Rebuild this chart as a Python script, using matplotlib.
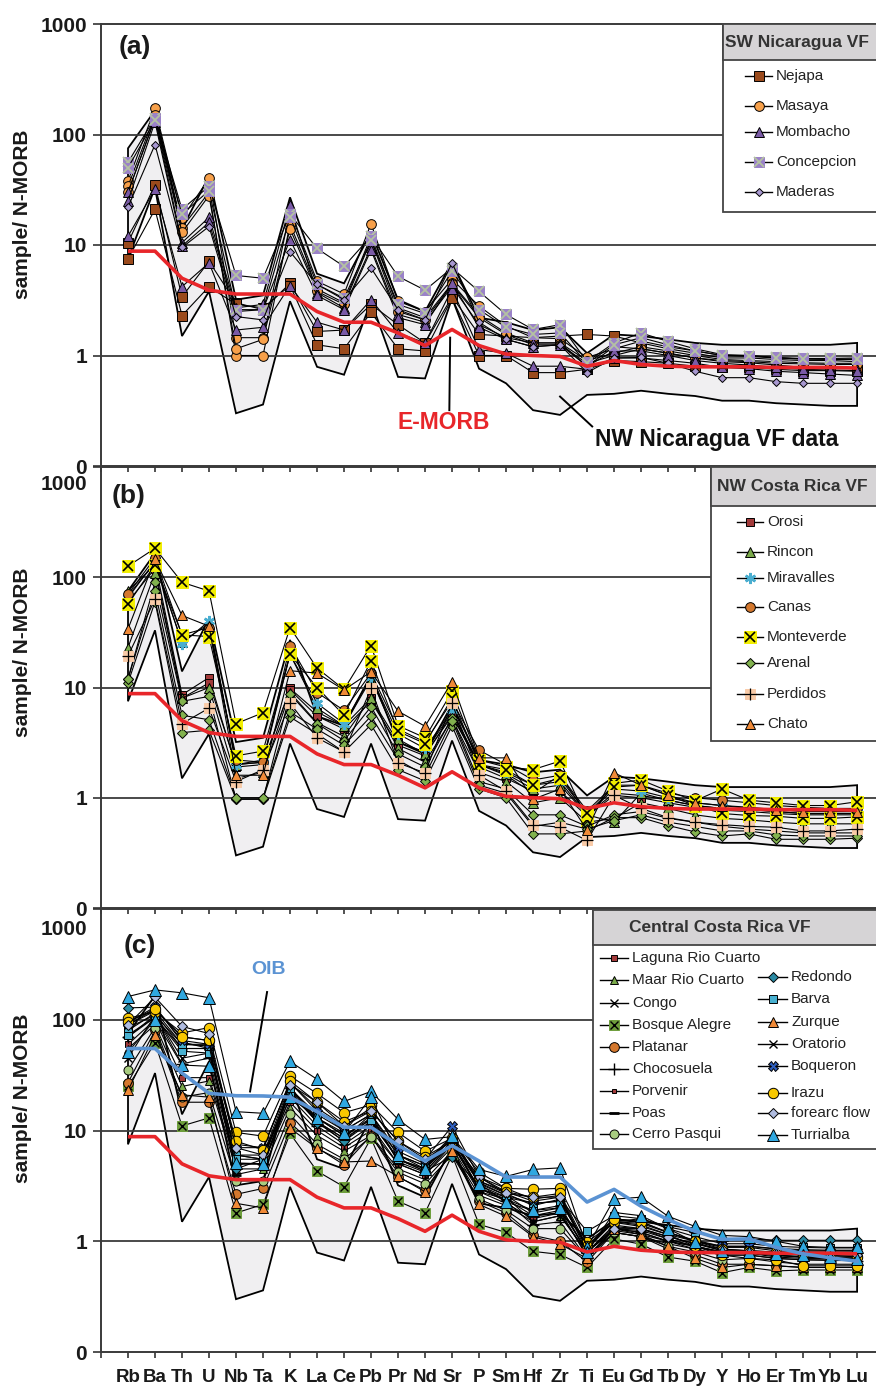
import numpy as np
import matplotlib.pyplot as plt
from matplotlib.lines import Line2D
from matplotlib.patches import Rectangle

plt.rcParams['font.family'] = ['Liberation Sans', 'DejaVu Sans']

W, H = 876, 1388

elements = ['Rb', 'Ba', 'Th', 'U', 'Nb', 'Ta', 'K', 'La', 'Ce', 'Pb', 'Pr', 'Nd', 'Sr', 'P',
            'Sm', 'Hf', 'Zr', 'Ti', 'Eu', 'Gd', 'Tb', 'Dy', 'Y', 'Ho', 'Er', 'Tm', 'Yb', 'Lu']

# reference compositions, normalised to N-MORB
e_morb = [8.8, 8.8, 5.0, 3.9, 3.6, 3.6, 3.6, 2.5, 2.0, 2.0, 1.6, 1.23, 1.72, 1.23, 1.03, 1.0,
          0.98, 0.8, 0.9, 0.83, 0.8, 0.79, 0.79, 0.79, 0.78, 0.78, 0.78, 0.77]
oib = [55, 55, 33, 21.7, 20.6, 20.5, 20, 14.8, 10.7, 10.7, 7.35, 5.3, 7.3, 5.3, 3.8, 3.8,
       3.8, 2.26, 2.94, 2.07, 1.57, 1.23, 1.04, 1.05, 0.88, 0.77, 0.71, 0.66]

# NW Nicaragua volcanic front envelope
nw_nic_upper = [75, 165, 14, 42, 3.2, 3.5, 27, 5.5, 4.5, 13, 3.2, 2.5, 7.0, 2.2, 2.0, 1.7,
                1.8, 1.05, 1.55, 1.5, 1.4, 1.3, 1.25, 1.25, 1.25, 1.25, 1.25, 1.3]
nw_nic_lower = [7.5, 33, 1.5, 3.8, 0.3, 0.36, 3.1, 0.79, 0.67, 3.1, 0.64, 0.62, 3.3, 0.76,
                0.56, 0.32, 0.29, 0.44, 0.45, 0.48, 0.45, 0.43, 0.39, 0.39, 0.37, 0.36, 0.35, 0.35]

# (a) SW Nicaragua VF
nejapa = [
    [10.5, 35, 3.4, 7.1, 3.0, 2.6, 4.5, 1.65, 1.7, 2.9, 1.9, 1.3, 3.4, 1.55, 1.5, 1.45, 1.5, 1.55,
     1.5, 1.3, 1.15, 1.05, 0.95, 0.95, 0.92, 0.9, 0.9, 0.88],
    [7.5, 21, 2.3, 4.2, 2.9, 2.7, 4.3, 1.25, 1.15, 2.45, 1.15, 1.1, 3.3, 1.0, 1.0, 0.7, 0.7, 0.75,
     0.9, 0.88, 0.85, 0.8, 0.78, 0.78, 0.75, 0.73, 0.73, 0.72],
]
masaya = [
    [38, 173, 17.5, 40, 1.45, 1.45, 20, 4.7, 3.6, 15.6, 3.1, 2.5, 4.9, 2.8, 1.85, 1.45, 1.42, 0.96,
     1.15, 1.35, 1.2, 1.1, 1.0, 0.98, 0.95, 0.93, 0.92, 0.92],
    [34, 150, 14.4, 30, 1.0, 1.0, 15.4, 4.0, 3.0, 12, 2.7, 2.2, 4.5, 2.3, 1.6, 1.3, 1.3, 0.9,
     1.05, 1.2, 1.1, 1.0, 0.92, 0.9, 0.88, 0.86, 0.85, 0.85],
    [30, 140, 13, 28, 1.15, 1.4, 14, 3.8, 2.9, 11, 2.5, 2.1, 4.4, 2.2, 1.55, 1.25, 1.25, 0.85,
     1.0, 1.15, 1.05, 0.95, 0.9, 0.88, 0.85, 0.84, 0.83, 0.83],
]
mombacho = [
    [30, 140, 10.5, 17.8, 2.7, 2.9, 23, 3.7, 2.7, 9.5, 2.35, 2.0, 4.2, 1.9, 1.45, 1.3, 1.3, 0.8,
     1.2, 1.15, 1.05, 0.95, 0.88, 0.86, 0.82, 0.78, 0.77, 0.76],
    [12, 32, 4.2, 6.9, 1.7, 1.8, 4.3, 2.0, 1.7, 3.2, 1.6, 1.3, 4.0, 1.13, 1.05, 0.8, 0.8, 0.75,
     0.95, 0.95, 0.9, 0.85, 0.78, 0.76, 0.72, 0.7, 0.68, 0.66],
    [25, 130, 9.8, 16, 2.5, 2.6, 11.2, 3.5, 2.6, 9.0, 2.2, 1.9, 4.5, 1.8, 1.4, 1.2, 1.25, 0.8,
     1.1, 1.1, 1.0, 0.9, 0.85, 0.82, 0.78, 0.75, 0.74, 0.73],
]
concepcion = [
    [56, 142, 21, 34, 5.3, 5.0, 19, 9.3, 6.4, 12, 5.2, 3.9, 6.2, 3.8, 2.35, 1.72, 1.9, 0.88,
     1.3, 1.6, 1.34, 1.15, 1.02, 1.0, 0.96, 0.94, 0.94, 0.95],
    [50, 135, 19, 31, 2.6, 2.6, 18, 4.4, 3.3, 11, 2.9, 2.4, 5.8, 2.6, 1.8, 1.55, 1.6, 0.85,
     1.25, 1.45, 1.25, 1.1, 1.0, 1.0, 0.95, 0.93, 0.93, 0.93],
]
maderas = [
    [22, 81, 9.5, 14.7, 2.25, 2.1, 8.7, 4.4, 3.2, 6.2, 2.6, 2.1, 6.9, 2.0, 1.4, 1.2, 1.25, 0.7,
     0.95, 0.96, 0.85, 0.72, 0.63, 0.63, 0.58, 0.56, 0.56, 0.56],
]

# (b) NW Costa Rica VF
orosi = [
    [68, 135, 8.6, 12.3, 1.9, 2.0, 9.8, 6.0, 4.5, 8.0, 3.2, 2.6, 6.0, 2.0, 1.6, 1.1, 1.6, 0.7,
     1.1, 1.05, 0.95, 0.85, 0.8, 0.78, 0.75, 0.72, 0.72, 0.72],
    [60, 120, 8.0, 11, 2.0, 2.1, 9.5, 5.5, 4.2, 7.5, 3.0, 2.4, 5.8, 1.9, 1.5, 1.15, 1.15, 0.68,
     1.05, 1.0, 0.9, 0.82, 0.77, 0.75, 0.72, 0.7, 0.7, 0.7],
]
rincon = [
    [75, 130, 26, 38, 2.0, 2.2, 20, 6.5, 4.5, 12, 3.4, 2.5, 5.5, 2.0, 1.65, 1.2, 1.3, 0.7,
     0.6, 1.1, 0.95, 0.85, 0.8, 0.78, 0.75, 0.72, 0.72, 0.72],
    [23, 110, 8.0, 10, 1.5, 1.7, 9.0, 4.8, 3.6, 8.0, 2.8, 2.1, 5.2, 1.7, 1.4, 0.9, 1.0, 0.6,
     0.65, 0.9, 0.8, 0.7, 0.65, 0.63, 0.6, 0.58, 0.58, 0.58],
]
miravalles = [
    [65, 140, 25, 40, 2.0, 2.1, 20, 7.2, 4.7, 12.5, 3.8, 2.8, 6.2, 2.0, 1.7, 1.3, 1.4, 0.7,
     1.2, 1.15, 1.0, 0.9, 0.85, 0.82, 0.78, 0.76, 0.75, 0.75],
]
canas = [
    [70, 150, 30, 35, 2.2, 2.1, 24, 9.0, 6.2, 13.5, 4.2, 3.2, 7.5, 2.7, 2.0, 1.45, 1.6, 0.76,
     1.3, 1.3, 1.1, 1.0, 0.95, 0.9, 0.85, 0.82, 0.8, 0.8],
]
monteverde = [
    [126, 183, 90, 75, 4.7, 5.9, 35, 15, 9.6, 24, 4.5, 3.5, 9.2, 2.2, 1.9, 1.8, 2.15, 0.63,
     1.35, 1.45, 1.15, 0.94, 1.2, 0.95, 0.9, 0.85, 0.85, 0.92],
    [57, 130, 30, 29, 2.4, 2.65, 20, 10, 5.6, 17.5, 4.0, 3.1, 8.0, 2.0, 1.8, 1.3, 1.5, 0.72,
     1.25, 1.3, 1.05, 0.85, 0.72, 0.69, 0.68, 0.65, 0.65, 0.67],
]
arenal = [
    [12, 90, 7.5, 8.3, 0.97, 0.97, 8.7, 4.7, 3.3, 6.7, 2.5, 1.9, 5.3, 1.4, 1.2, 0.7, 0.7, 0.55,
     0.7, 0.75, 0.65, 0.6, 0.55, 0.52, 0.5, 0.48, 0.48, 0.48],
    [11, 60, 3.9, 4.1, 0.97, 0.97, 5.4, 3.8, 2.6, 4.6, 1.8, 1.42, 4.5, 1.2, 1.0, 0.47, 0.47, 0.5,
     0.66, 0.66, 0.56, 0.49, 0.45, 0.47, 0.42, 0.42, 0.42, 0.43],
    [12, 75, 5.6, 5.1, 1.0, 1.0, 6.0, 4.2, 3.0, 5.5, 2.2, 1.6, 5.0, 1.3, 1.1, 0.55, 0.6, 0.52,
     0.62, 0.7, 0.6, 0.55, 0.5, 0.5, 0.46, 0.45, 0.45, 0.45],
]
perdidos = [
    [19.4, 63, 4.7, 6.5, 1.4, 1.8, 7.2, 3.5, 2.6, 9.8, 2.07, 1.68, 7.2, 1.6, 1.15, 0.57, 0.54, 0.41,
     1.05, 0.8, 0.66, 0.6, 0.57, 0.55, 0.54, 0.5, 0.5, 0.52],
]
chato = [
    [34, 145, 45, 36, 1.6, 1.6, 14.2, 13.5, 9.5, 13.9, 6.1, 4.45, 11.3, 2.3, 2.3, 0.97, 1.2, 0.51,
     1.68, 1.3, 1.05, 0.9, 0.85, 0.8, 0.78, 0.75, 0.75, 0.75],
]

# (c) Central Costa Rica VF
laguna_rio_cuarto = [
    [60, 100, 30, 30, 5.0, 5.0, 18, 10, 7.0, 10, 5.0, 4.0, 7.0, 2.8, 2.2, 1.6, 1.8, 0.75,
     1.2, 1.1, 0.95, 0.85, 0.75, 0.75, 0.7, 0.68, 0.68, 0.68],
]
maar_rio_cuarto = [
    [55, 90, 25, 28, 4.5, 4.5, 16, 9.0, 6.5, 9.0, 4.5, 3.6, 6.5, 2.6, 2.1, 1.5, 1.7, 0.8,
     1.25, 1.15, 1.0, 0.9, 0.8, 0.8, 0.75, 0.72, 0.72, 0.72],
]
congo = [
    [45, 110, 45, 50, 6.0, 5.5, 22, 12, 8.0, 12, 5.5, 4.5, 8.0, 3.0, 2.5, 1.5, 1.7, 0.8,
     1.3, 1.2, 1.0, 0.9, 0.78, 0.78, 0.72, 0.7, 0.7, 0.7],
]
bosque_alegre = [
    [25, 62, 11, 13, 1.8, 2.15, 9.4, 4.3, 3.1, 8.5, 2.3, 1.8, 6.0, 1.42, 1.2, 0.81, 0.76, 0.58,
     1.05, 0.94, 0.72, 0.66, 0.52, 0.58, 0.54, 0.55, 0.55, 0.55],
]
platanar = [
    [27, 80, 18, 18, 2.65, 3.0, 11.8, 7.0, 4.9, 9.0, 3.8, 2.9, 6.5, 2.3, 1.8, 1.13, 1.0, 0.65,
     1.2, 1.1, 0.85, 0.75, 0.62, 0.62, 0.6, 0.58, 0.58, 0.58],
]
chocosuela = [
    [70, 110, 40, 45, 5.0, 5.0, 20, 11, 7.5, 11, 5.0, 4.0, 7.5, 3.0, 2.3, 1.4, 1.5, 0.7,
     1.3, 1.2, 1.0, 0.85, 0.75, 0.75, 0.7, 0.68, 0.67, 0.67],
]
porvenir = [
    [80, 115, 55, 55, 6.0, 5.5, 24, 13, 9.0, 13, 6.0, 4.8, 8.5, 3.3, 2.6, 1.8, 2.0, 0.8,
     1.4, 1.3, 1.1, 0.95, 0.82, 0.82, 0.78, 0.75, 0.75, 0.75],
]
poas = [
    [90, 120, 60, 60, 4.0, 4.5, 25, 12, 8.5, 14, 5.2, 4.2, 8.0, 2.8, 2.4, 1.7, 1.9, 0.72,
     1.3, 1.25, 1.05, 0.9, 0.8, 0.8, 0.75, 0.72, 0.72, 0.72],
    [70, 105, 55, 55, 5.0, 5.0, 22, 12, 8.5, 12, 5.5, 4.3, 7.5, 3.0, 2.4, 1.9, 2.1, 0.8,
     1.35, 1.3, 1.05, 0.9, 0.8, 0.78, 0.74, 0.72, 0.7, 0.7],
]
cerro_pasqui = [
    [35, 85, 20, 22, 3.5, 3.5, 14, 7.5, 5.5, 8.8, 4.2, 3.3, 6.0, 2.4, 1.9, 1.3, 1.3, 0.7,
     1.2, 1.1, 0.9, 0.8, 0.68, 0.7, 0.65, 0.62, 0.62, 0.62],
]
redondo = [
    [128, 130, 63, 55, 4.5, 5.5, 24, 11.8, 8.0, 13, 5.5, 4.3, 5.8, 3.2, 2.5, 2.2, 2.3, 0.9,
     1.5, 1.6, 1.35, 1.2, 1.05, 1.05, 1.02, 1.02, 1.02, 1.02],
]
barva = [
    [73, 105, 52, 50, 6.0, 6.0, 22, 13, 9.0, 12.5, 5.5, 4.5, 8.0, 3.5, 2.7, 2.1, 2.4, 1.23,
     1.7, 1.6, 1.3, 1.1, 0.95, 0.95, 0.9, 0.88, 0.87, 0.87],
    [85, 110, 60, 58, 5.5, 5.5, 24, 14, 10, 14, 6.0, 4.8, 7.5, 3.4, 2.6, 2.2, 2.3, 0.9,
     1.5, 1.45, 1.2, 1.02, 0.9, 0.9, 0.86, 0.84, 0.83, 0.83],
]
zurque = [
    [23, 73, 21, 20, 2.2, 2.0, 10.5, 6.9, 5.2, 5.3, 3.85, 2.8, 6.5, 2.15, 1.68, 1.1, 0.94, 0.7,
     1.3, 1.15, 0.9, 0.7, 0.58, 0.62, 0.6, 0.58, 0.58, 0.58],
]
oratorio = [
    [90, 125, 70, 65, 7.0, 7.0, 27, 15, 10, 14, 6.5, 5.0, 9.0, 3.5, 2.8, 2.3, 2.5, 0.85,
     1.5, 1.4, 1.15, 1.0, 0.88, 0.88, 0.82, 0.8, 0.8, 0.8],
]
boqueron = [
    [95, 130, 65, 60, 7.5, 7.0, 27, 16, 11, 16, 7.0, 5.5, 10.9, 3.8, 3.0, 2.4, 2.6, 0.85,
     1.6, 1.5, 1.2, 1.0, 0.9, 0.9, 0.85, 0.82, 0.82, 0.82],
]
irazu = [
    [103, 118, 76, 85, 9.6, 8.9, 31, 21.6, 14.5, 17, 9.6, 6.5, 8.5, 4.2, 3.0, 2.95, 3.0, 0.98,
     1.48, 1.36, 1.15, 0.9, 0.75, 0.7, 0.68, 0.6, 0.6, 0.6],
    [95, 125, 70, 65, 8.0, 6.7, 28, 18, 12, 15, 8.0, 5.8, 8.0, 3.8, 2.8, 2.5, 2.7, 0.9,
     1.6, 1.5, 1.2, 1.0, 0.85, 0.82, 0.8, 0.75, 0.75, 0.72],
]
forearc_flow = [
    [90, 160, 87, 75, 7.0, 6.0, 26, 18, 11, 15, 8.0, 5.5, 8.0, 3.8, 2.7, 2.5, 2.5, 0.8,
     1.3, 1.3, 1.1, 0.95, 0.85, 0.82, 0.8, 0.78, 0.76, 0.75],
]
turrialba = [
    [162, 186, 175, 158, 14.8, 14.3, 42, 29, 18.3, 22.5, 12.6, 8.3, 8.8, 4.45, 3.85, 4.45, 4.6, 0.88,
     2.4, 2.5, 1.68, 1.36, 1.13, 1.1, 1.0, 0.9, 0.88, 0.88],
    [51, 100, 39, 38, 5.1, 5.0, 20, 13, 9.5, 20, 6.0, 4.5, 9.0, 3.3, 2.25, 1.9, 2.0, 0.8,
     1.82, 1.7, 1.3, 0.98, 0.82, 0.8, 0.76, 0.75, 0.72, 0.69],
]


def sty(marker, fc, ms, ec='black', mew=0.7, over=None):
    return dict(marker=marker, fc=fc, ms=ms, ec=ec, mew=mew, over=over)


def marker_kw(s):
    return dict(marker=s['marker'], markerfacecolor=s['fc'], markeredgecolor=s['ec'],
                markersize=s['ms'], markeredgewidth=s['mew'])


panel_a = [
    ('Nejapa', nejapa, sty('s', '#9a4a1c', 6.5)),
    ('Masaya', masaya, sty('o', '#f7a04a', 7)),
    ('Mombacho', mombacho, sty('^', '#7a5aa6', 7)),
    ('Concepcion', concepcion, sty('s', '#9a82c8', 7, ec='#9a82c8', over=('x', '#b4c2a2', 1.3, 6.5))),
    ('Maderas', maderas, sty('D', '#a898d0', 4.5)),
]
panel_b = [
    ('Orosi', orosi, sty('s', '#a23a3a', 6)),
    ('Rincon', rincon, sty('^', '#7aaa4a', 7)),
    ('Miravalles', miravalles, sty((6, 2, 0), 'none', 8, ec='#4aaed0', mew=1.8)),
    ('Canas', canas, sty('o', '#d4782e', 7)),
    ('Monteverde', monteverde, sty('s', '#f2ee00', 8, ec='#f2ee00', over=('x', 'black', 1.2, 7))),
    ('Arenal', arenal, sty('D', '#82b24e', 5.5)),
    ('Perdidos', perdidos, sty('s', '#f9cba8', 7.5, ec='#f9cba8', over=('+', 'black', 0.9, 8))),
    ('Chato', chato, sty('^', '#f08a38', 7.5)),
]
panel_c_left = [
    ('Laguna Rio Cuarto', laguna_rio_cuarto, sty('s', '#a23a3a', 5)),
    ('Maar Rio Cuarto', maar_rio_cuarto, sty('^', '#7aaa4a', 6)),
    ('Congo', congo, sty('x', 'black', 6, mew=1.0)),
    ('Bosque Alegre', bosque_alegre, sty('s', '#6e9e3c', 7, ec='#6e9e3c', over=('x', 'black', 1.0, 6))),
    ('Platanar', platanar, sty('o', '#d4782e', 7)),
    ('Chocosuela', chocosuela, sty('+', 'black', 8, mew=1.0)),
    ('Porvenir', porvenir, sty('s', '#a23a3a', 3)),
    ('Poas', poas, sty('_', 'black', 7, mew=2.0)),
    ('Cerro Pasqui', cerro_pasqui, sty('o', '#a8cc80', 6.5)),
]
panel_c_right = [
    ('Redondo', redondo, sty('D', '#2a8aa4', 5.5)),
    ('Barva', barva, sty('s', '#48b0d0', 6)),
    ('Zurque', zurque, sty('^', '#f08a38', 7)),
    ('Oratorio', oratorio, sty('x', 'black', 6, mew=1.0)),
    ('Boqueron', boqueron, sty('X', '#2f5fbf', 7)),
    ('Irazu', irazu, sty('o', '#f8c800', 7.5)),
    ('forearc flow', forearc_flow, sty('D', '#b0bce0', 5.5)),
    ('Turrialba', turrialba, sty('^', '#30a8e0', 8)),
]

x = np.arange(len(elements))


def plot_group(ax, samples, s):
    for vals in samples:
        ax.plot(x, vals, color='black', lw=0.8, zorder=3, **marker_kw(s))
        if s['over']:
            m, c, mew, ms = s['over']
            ax.plot(x, vals, ls='none', marker=m, markeredgecolor=c, markeredgewidth=mew,
                    markersize=ms, zorder=3)


def fx(px):
    return px / W


def fy(py):
    return 1 - py / H


def make_axes(fig, top, bottom):
    ax = fig.add_axes([fx(101), fy(bottom), fx(876) - fx(101), fy(top) - fy(bottom)])
    ax.patch.set_visible(False)
    ax.set_yscale('log')
    ax.set_ylim(0.1, 1000)
    ax.set_xlim(-1, 27.7)
    ax.set_yticks([0.1, 1, 10, 100, 1000])
    ax.yaxis.set_minor_locator(plt.NullLocator())
    ax.set_xticks(np.arange(-1, 28))
    ax.tick_params(axis='y', direction='out', length=6, width=1.2, pad=4,
                   labelsize=15, colors='#333333', labelcolor='#1a1a1a')
    ax.tick_params(axis='x', direction='out', length=4.5, width=1.2, colors='#333333')
    for y in [1, 10, 100]:
        ax.axhline(y, color='#3a3a3a', lw=1.3, zorder=2)
    for sp in ['left', 'top', 'bottom']:
        ax.spines[sp].set_color('#3a3a3a')
        ax.spines[sp].set_linewidth(1.4)
    ax.spines['right'].set_visible(False)

    # NW Nicaragua field
    ax.fill(np.concatenate([x, x[::-1]]), np.concatenate([nw_nic_upper, nw_nic_lower[::-1]]),
            facecolor='#f0eff1', edgecolor='black', lw=1.3, zorder=1)
    return ax


def set_ylabels(ax, shift_top):
    ax.set_yticklabels(['0', '1', '10', '100', '' if shift_top else '1000'])
    for lab in ax.get_yticklabels():
        lab.set_fontweight('bold')
    if shift_top:
        ax.annotate('1000', xy=(0, 1000), xycoords=('axes fraction', 'data'),
                    xytext=(-10, -shift_top), textcoords='offset points',
                    ha='right', va='center', fontsize=15, fontweight='bold', color='#1a1a1a')


def draw_legend(fig, x0, x1, y0, y1, head, title, title_x, entries):
    fig.add_artist(Rectangle((fx(x0), fy(y1)), fx(x1) - fx(x0), fy(y0) - fy(y1),
                             transform=fig.transFigure, facecolor='white',
                             edgecolor='#444444', lw=1.3, zorder=5))
    fig.add_artist(Rectangle((fx(x0), fy(head)), fx(x1) - fx(x0), fy(y0) - fy(head),
                             transform=fig.transFigure, facecolor='#d6d4d6',
                             edgecolor='#444444', lw=1.3, zorder=5))
    fig.text(fx(title_x), fy((y0 + head) / 2), title, ha='center', va='center',
             fontsize=12.5, fontweight='bold', color='#333333', zorder=6)
    for label, lx0, lx1, ly, s in entries:
        xm = (lx0 + lx1) / 2
        fig.add_artist(Line2D([fx(lx0), fx(lx1)], [fy(ly), fy(ly)], color='black', lw=1.0,
                              transform=fig.transFigure, zorder=6))
        fig.add_artist(Line2D([fx(xm)], [fy(ly)], ls='none', transform=fig.transFigure,
                              zorder=7, **marker_kw(s)))
        if s['over']:
            m, c, mew, ms = s['over']
            fig.add_artist(Line2D([fx(xm)], [fy(ly)], ls='none', marker=m, markeredgecolor=c,
                                  markeredgewidth=mew, markersize=ms,
                                  transform=fig.transFigure, zorder=7))
        fig.text(fx(lx1 + 4), fy(ly), label, ha='left', va='center', fontsize=11,
                 color='#222222', zorder=7)


fig = plt.figure(figsize=(W / 100, H / 100), dpi=100)

ax_a = make_axes(fig, 24, 466)
ax_b = make_axes(fig, 467, 908)
ax_c = make_axes(fig, 909, 1352)

for ax in (ax_a, ax_b):
    ax.set_xticklabels([])
ax_c.set_xticklabels([''] + elements, fontsize=13.5, fontweight='bold', color='#1a1a1a')
ax_c.tick_params(axis='x', pad=8)

set_ylabels(ax_a, 0)
set_ylabels(ax_b, 12.5)
set_ylabels(ax_c, 15)

for _, samples, s in panel_a:
    plot_group(ax_a, samples, s)
for _, samples, s in panel_b:
    plot_group(ax_b, samples, s)
for _, samples, s in panel_c_left + panel_c_right:
    plot_group(ax_c, samples, s)

for ax in (ax_a, ax_b, ax_c):
    ax.plot(x, e_morb, color='#e8262a', lw=2.6, zorder=5, solid_capstyle='butt')
ax_c.plot(x, oib, color='#5b93d3', lw=2.6, zorder=5)

# panel letters
ax_a.text(0.043, 0.948, '(a)', transform=ax_a.transAxes, ha='center', va='center',
          fontsize=19, fontweight='bold', color='#1a1a1a')
ax_b.text(0.036, 0.934, '(b)', transform=ax_b.transAxes, ha='center', va='center',
          fontsize=19, fontweight='bold', color='#1a1a1a')
ax_c.text(0.050, 0.916, '(c)', transform=ax_c.transAxes, ha='center', va='center',
          fontsize=19, fontweight='bold', color='#1a1a1a')

# callouts
ax_a.plot([11.93, 11.9], [1.45, 0.32], color='black', lw=1.4, zorder=6)
ax_a.text(11.7, 0.247, 'E-MORB', ha='center', va='center', fontsize=16.5,
          fontweight='bold', color='#e8262a')
ax_a.plot([16.0, 17.19], [0.425, 0.228], color='black', lw=1.4, zorder=6)
ax_a.text(21.8, 0.174, 'NW Nicaragua VF data', ha='center', va='center', fontsize=16.5,
          fontweight='bold', color='#111111')
ax_c.plot([5.15, 4.52], [178, 22.5], color='black', lw=1.4, zorder=6)
ax_c.text(5.22, 282, 'OIB', ha='center', va='center', fontsize=14,
          fontweight='bold', color='#5b93d3')

for yc in (214, 652, 1098):
    fig.text(fx(23), fy(yc), 'sample/ N-MORB', rotation=90, ha='center', va='center',
             fontsize=15, fontweight='bold', color='#1a1a1a')

# legends
rows_a = [76, 106, 132, 162, 192]
draw_legend(fig, 723, 878, 24, 212, 60, 'SW Nicaragua VF', 797,
            [(n, 745, 772, yy, s) for (n, _, s), yy in zip(panel_a, rows_a)])
rows_b = [522, 552, 578, 607, 637, 663, 694, 724]
draw_legend(fig, 711, 878, 467, 741, 506, 'NW Costa Rica VF', 792,
            [(n, 737, 763, yy, s) for (n, _, s), yy in zip(panel_b, rows_b)])
rows_cl = [958, 980, 1003, 1025, 1047, 1069, 1091, 1113, 1134]
rows_cr = [977, 999, 1022, 1044, 1066, 1093, 1113, 1135]
draw_legend(fig, 593, 878, 910, 1149, 945, 'Central Costa Rica VF', 720,
            [(n, 600, 628, yy, s) for (n, _, s), yy in zip(panel_c_left, rows_cl)]
            + [(n, 758, 787, yy, s) for (n, _, s), yy in zip(panel_c_right, rows_cr)])

fig.savefig('out.png', dpi=100)
